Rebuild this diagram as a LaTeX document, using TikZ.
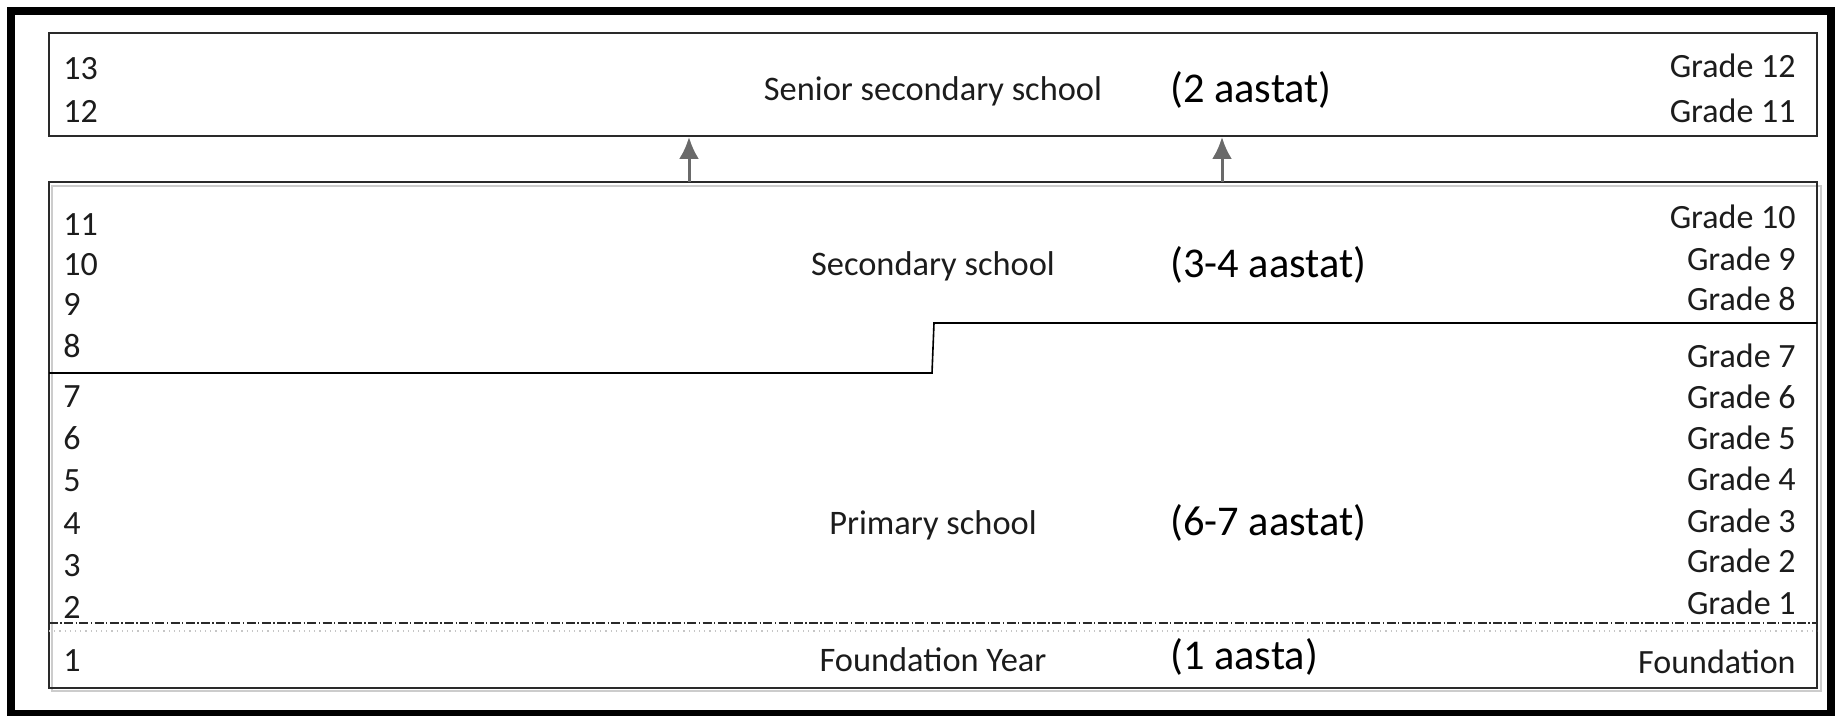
\documentclass[tikz,border=0pt]{standalone}
\usepackage{fontspec}
\setmainfont{Carlito}
\usetikzlibrary{arrows.meta}

\definecolor{boxgray}{HTML}{2A2A2A}
\definecolor{txtgray}{HTML}{1C1C1C}
\definecolor{arrgray}{HTML}{6A6A6A}

\begin{document}
\begin{tikzpicture}[x=0.5pt,y=-0.5pt,>={Latex[length=11pt,width=10pt]},
    frame/.style={line width=4.4pt,black},
    box/.style={line width=1.4pt,draw=boxgray},
    shade/.style={line width=0.6pt,draw=gray!40},
    stepline/.style={line width=0.8pt,black},
    foundline/.style={line width=0.6pt,draw=boxgray,dash pattern=on 4.5pt off 1.2pt on 0.7pt off 1.2pt},
    faintline/.style={line width=0.6pt,draw=gray!45,dotted},
    upar/.style={->,line width=1.5pt,arrgray},
    num/.style={anchor=base west,inner sep=0pt,text=txtgray,font=\fontsize{17}{20}\selectfont},
    grade/.style={anchor=base east,inner sep=0pt,text=txtgray,font=\fontsize{17}{20}\selectfont},
    school/.style={anchor=base,inner sep=0pt,text=txtgray,font=\fontsize{17.2}{20}\selectfont},
    yrs/.style={anchor=base west,inner sep=0pt,text=black,font=\fontsize{21.2}{25}\selectfont}]
  \useasboundingbox (0,0) rectangle (1837,716);
  \draw[frame] (11,11) rectangle (1831,714);
  % boxes
  \draw[box] (49,33) rectangle (1817,136);
  \draw[shade] (52,186) rectangle (1821,691);
  \draw[box] (49,182) rectangle (1817,688);
  \draw[stepline] (49,373) -- (932,373) -- (934,323) -- (1817,323);
  \draw[faintline] (49,631) -- (1817,631);
  \draw[foundline] (49,623) -- (1817,623);
  % arrows between the two boxes
  \coordinate (a1) at (689,182); \coordinate (b1) at (689,137);
  \coordinate (a2) at (1222,182); \coordinate (b2) at (1222,137);
  \draw[upar] (a1) -- (b1);
  \draw[upar] (a2) -- (b2);
  % senior secondary
  \node[num] (n13) at (63,80) {13};
  \node[num] (n12) at (63,123) {12};
  \node[school] (senior) at (933,101) {Senior secondary school};
  \node[yrs] (senioryrs) at (1170,103) {(2 aastat)};
  \node[grade] (g12) at (1796,78) {Grade 12};
  \node[grade] (g11) at (1796,123) {Grade 11};
  % secondary
  \node[num] (n11) at (63,236) {11};
  \node[num] (n10) at (63,276) {10};
  \node[num] (n9) at (63,316) {9};
  \node[num] (n8) at (63,358) {8};
  \node[school] (second) at (933,276) {Secondary school};
  \node[yrs] (secondyrs) at (1170,278) {(3-4 aastat)};
  \node[grade] (g10) at (1796,229) {Grade 10};
  \node[grade] (g9) at (1796,271) {Grade 9};
  \node[grade] (g8) at (1796,311) {Grade 8};
  % primary
  \node[num] (n7) at (63,408) {7};
  \node[num] (n6) at (63,450) {6};
  \node[num] (n5) at (63,492) {5};
  \node[num] (n4) at (63,534) {4};
  \node[num] (n3) at (63,576) {3};
  \node[num] (n2) at (63,618) {2};
  \node[school] (prim) at (933,534) {Primary school};
  \node[yrs] (primyrs) at (1170,536) {(6-7 aastat)};
  \node[grade] (g7) at (1796,368) {Grade 7};
  \node[grade] (g6) at (1796,409) {Grade 6};
  \node[grade] (g5) at (1796,450) {Grade 5};
  \node[grade] (g4) at (1796,491) {Grade 4};
  \node[grade] (g3) at (1796,532) {Grade 3};
  \node[grade] (g2) at (1796,573) {Grade 2};
  \node[grade] (g1) at (1796,614) {Grade 1};
  % foundation
  \node[num] (n1) at (63,671) {1};
  \node[school] (found) at (933,671) {Foundation Year};
  \node[yrs] (foundyrs) at (1170,669) {(1 aasta)};
  \node[grade] (gf) at (1796,673) {Foundation};
\end{tikzpicture}
\end{document}
